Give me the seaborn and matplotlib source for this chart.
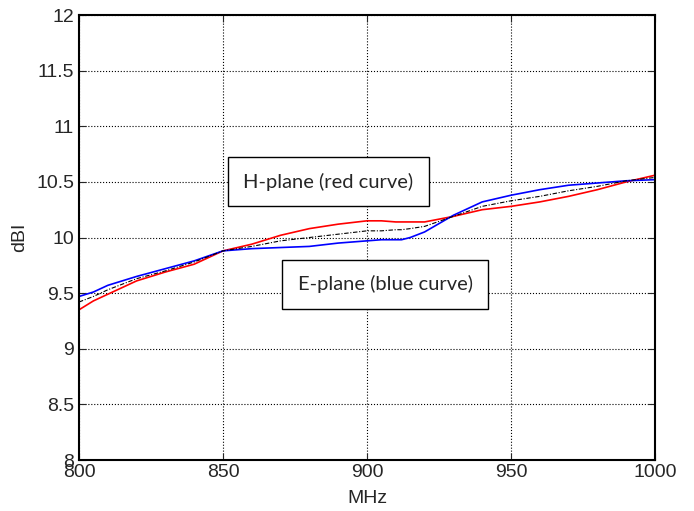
import pandas as pd
import matplotlib
matplotlib.use("Agg")
import matplotlib.pyplot as plt
import seaborn as sns

# values
freq = [800, 805, 810, 820, 830, 840, 850, 860, 870, 880, 890, 900, 905, 910, 912, 915,
        920, 930, 940, 950, 960, 970, 980, 990, 1000]
h_plane = [9.35, 9.43, 9.49, 9.61, 9.69, 9.76, 9.88, 9.94, 10.02, 10.08, 10.12, 10.15,
           10.15, 10.14, 10.14, 10.14, 10.14, 10.19, 10.25, 10.28, 10.32, 10.37, 10.43,
           10.50, 10.56]
e_plane = [9.47, 9.51, 9.57, 9.65, 9.72, 9.79, 9.88, 9.90, 9.91, 9.92, 9.95, 9.97,
           9.98, 9.98, 9.98, 10.00, 10.05, 10.20, 10.32, 10.38, 10.43, 10.47, 10.49,
           10.51, 10.52]
average = [9.42, 9.47, 9.53, 9.63, 9.70, 9.78, 9.88, 9.92, 9.97, 10.00, 10.03, 10.06,
           10.06, 10.07, 10.07, 10.08, 10.10, 10.19, 10.28, 10.33, 10.37, 10.42, 10.46,
           10.51, 10.54]
x_ticks = [800, 850, 900, 950, 1000]
y_ticks = [8, 8.5, 9, 9.5, 10, 10.5, 11, 11.5, 12]

df = pd.DataFrame({"MHz": freq * 3,
                   "dBi": h_plane + e_plane + average,
                   "curve": ["H"] * len(freq) + ["E"] * len(freq) + ["avg"] * len(freq)})

sns.set_style("ticks")
plt.rcParams["font.family"] = ["Liberation Sans", "DejaVu Sans"]

fig = plt.figure(figsize=(6.94, 5.11), dpi=100)
ax = fig.add_axes([0.1138, 0.0998, 0.83, 0.8708])

sns.lineplot(data=df, x="MHz", y="dBi", hue="curve", style="curve",
             palette={"H": "#ff0000", "E": "#0000ff", "avg": "black"},
             dashes={"H": "", "E": "", "avg": (4, 1.5, 1, 1.5)},
             linewidth=1.2, legend=False, ax=ax)
# dash-dot average line drawn thinner
ax.lines[2].set_linewidth(0.8)

ax.set_xlim(800, 1000)
ax.set_ylim(8, 12)
ax.set_xticks(x_ticks)
ax.set_yticks(y_ticks)
ax.set_yticklabels([f"{v:g}" for v in y_ticks])
ax.grid(True, color="black", linestyle=":", linewidth=0.8)
ax.tick_params(direction="in", top=True, right=True, labelsize=14, length=5)
ax.tick_params(axis="x", pad=3)
for s in ax.spines.values():
    s.set_linewidth(1.5)
    s.set_color("black")
ax.set_xlabel("MHz", fontsize=14, labelpad=6)
ax.set_ylabel("dBI", fontsize=14, labelpad=6)

box = dict(boxstyle="square,pad=0.77", facecolor="white", edgecolor="black", linewidth=1)
ax.text(886.5, 10.5, "H-plane (red curve)", ha="center", va="center",
        fontsize=14.5, family=["Lato", "DejaVu Sans"], bbox=box)
ax.text(906.3, 9.58, "E-plane (blue curve)", ha="center", va="center",
        fontsize=14.5, family=["Lato", "DejaVu Sans"], bbox=box)

fig.savefig("out.png", dpi=100)
